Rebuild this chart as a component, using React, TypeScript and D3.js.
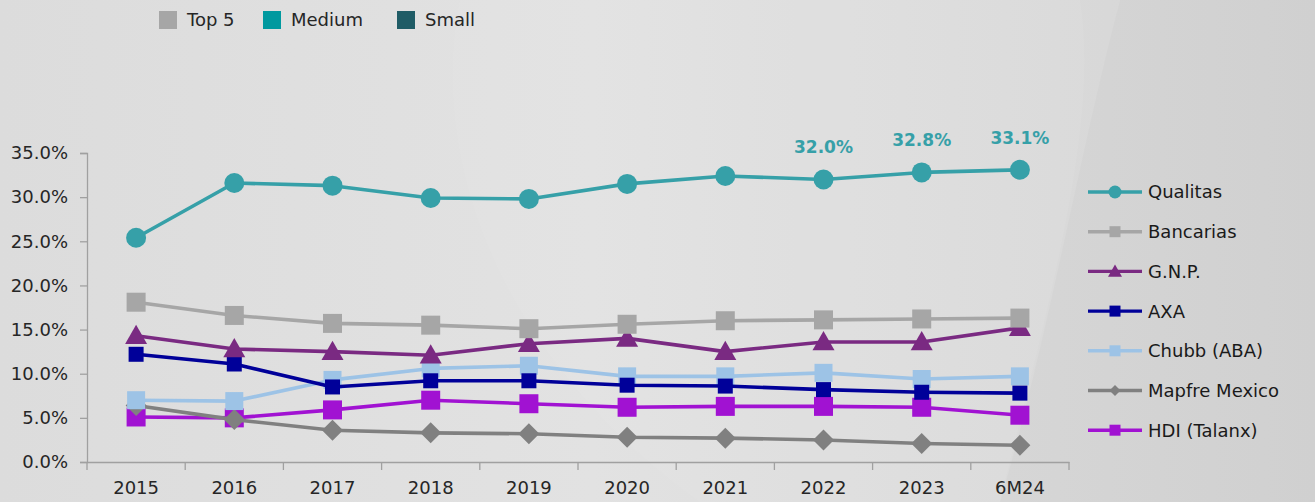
import { useEffect, useRef } from 'react';
import * as d3 from 'd3';

const years = ['2015', '2016', '2017', '2018', '2019', '2020', '2021', '2022', '2023', '6M24'];

const qualitas = [25.4, 31.6, 31.3, 29.9, 29.8, 31.5, 32.4, 32.0, 32.8, 33.1];
const bancarias = [18.1, 16.6, 15.7, 15.5, 15.1, 15.6, 16.0, 16.1, 16.2, 16.3];
const gnp = [14.3, 12.8, 12.5, 12.1, 13.4, 14.0, 12.5, 13.6, 13.6, 15.2];
const axa = [12.2, 11.1, 8.5, 9.2, 9.2, 8.7, 8.6, 8.2, 7.9, 7.8];
const chubb = [7.0, 6.9, 9.3, 10.6, 10.9, 9.7, 9.7, 10.1, 9.4, 9.7];
const mapfre = [6.4, 4.8, 3.6, 3.3, 3.2, 2.8, 2.7, 2.5, 2.1, 1.9];
const hdi = [5.1, 5.0, 5.9, 7.0, 6.6, 6.2, 6.3, 6.3, 6.2, 5.3];

const yTicks = [0, 5, 10, 15, 20, 25, 30, 35];

// labels shown above the last three Qualitas points
const highlighted = ['2022', '2023', '6M24'];

const segments = ['Top 5', 'Medium', 'Small'];
const segmentColors = ['#a6a6a6', '#00999f', '#1f5c66'];

const series = [
  { name: 'Qualitas', values: qualitas, color: '#36a0a8', marker: 'circle', size: 10 },
  { name: 'Bancarias', values: bancarias, color: '#a6a6a6', marker: 'square', size: 9.5 },
  { name: 'G.N.P.', values: gnp, color: '#7a2a82', marker: 'triangle', size: 11 },
  { name: 'AXA', values: axa, color: '#000099', marker: 'square', size: 7.5 },
  { name: 'Chubb (ABA)', values: chubb, color: '#9dc3e6', marker: 'square', size: 9 },
  { name: 'Mapfre Mexico', values: mapfre, color: '#808080', marker: 'diamond', size: 10.5 },
  { name: 'HDI (Talanx)', values: hdi, color: '#a112d2', marker: 'square', size: 9.5 }
];

const FONT = '"DejaVu Sans", sans-serif';

function markerPath(type, s) {
  if (type === 'circle') return d3.symbol(d3.symbolCircle, Math.PI * s * s)();
  if (type === 'triangle') return `M0,${-s}L${s},${s * 0.75}L${-s},${s * 0.75}Z`;
  if (type === 'diamond') return `M0,${-s}L${s},0L0,${s}L${-s},0Z`;
  return `M${-s},${-s}H${s}V${s}H${-s}Z`;
}

export default function App() {
  const svgRef = useRef();

  useEffect(() => {
    document.body.style.margin = '0';
    const width = 1315;
    const height = 502;
    const svg = d3.select(svgRef.current);
    svg.selectAll('*').remove();
    svg.attr('width', width).attr('height', height);

    // background
    const defs = svg.append('defs');
    const grad = defs.append('linearGradient').attr('id', 'bg').attr('x1', 0).attr('x2', 1).attr('y1', 0).attr('y2', 0);
    grad.append('stop').attr('offset', '0%').attr('stop-color', '#dcdcdc');
    grad.append('stop').attr('offset', '45%').attr('stop-color', '#e2e2e2');
    grad.append('stop').attr('offset', '100%').attr('stop-color', '#d4d4d4');
    svg.append('rect').attr('width', width).attr('height', height).attr('fill', 'url(#bg)');
    svg.append('path')
      .attr('d', 'M460,0 C430,150 490,350 700,502 L1000,502 C1050,300 1100,120 1080,0 Z')
      .attr('fill', '#ffffff').attr('opacity', 0.06);
    svg.append('path')
      .attr('d', 'M1120,0 L1315,0 L1315,502 L1000,502 C1050,330 1080,150 1120,0 Z')
      .attr('fill', '#000000').attr('opacity', 0.015);

    const left = 87;
    const right = 1069;
    const top = 153;
    const bottom = 462;

    const x = d3.scaleBand().domain(years).range([left, right]);
    const y = d3.scaleLinear().domain([0, 35]).range([bottom, top]);
    const cx = d => x(d) + x.bandwidth() / 2;

    // y axis
    const yAxis = svg.append('g')
      .attr('transform', `translate(${left},0)`)
      .call(d3.axisLeft(y).tickValues(yTicks).tickSize(7).tickPadding(12).tickFormat(d => d.toFixed(1) + '%'));
    yAxis.select('.domain').attr('stroke', '#a0a0a0').attr('stroke-width', 1.3);
    yAxis.selectAll('.tick line').attr('stroke', '#a0a0a0').attr('stroke-width', 1.3).attr('x2', -7);
    yAxis.selectAll('text').attr('fill', '#262626').style('font-size', '18px').style('font-family', FONT);

    // x axis
    const xAxis = svg.append('g')
      .attr('transform', `translate(0,${bottom})`)
      .call(d3.axisBottom(x).tickSize(0).tickPadding(19));
    xAxis.select('.domain').attr('stroke', '#a0a0a0').attr('stroke-width', 1.3);
    xAxis.selectAll('text').attr('fill', '#262626').style('font-size', '18px').style('font-family', FONT);
    svg.append('g')
      .selectAll('line')
      .data(d3.range(years.length + 1))
      .join('line')
      .attr('x1', i => left + i * x.bandwidth())
      .attr('x2', i => left + i * x.bandwidth())
      .attr('y1', bottom)
      .attr('y2', bottom + 8)
      .attr('stroke', '#a0a0a0')
      .attr('stroke-width', 1.3);

    const line = d3.line().x((d, i) => cx(years[i])).y(d => y(d));

    // draw series bottom-up so Qualitas is on top
    series.slice().reverse().forEach(s => {
      const g = svg.append('g');
      g.append('path')
        .attr('d', line(s.values))
        .attr('fill', 'none')
        .attr('stroke', s.color)
        .attr('stroke-width', 3.6)
        .attr('stroke-linejoin', 'round');
      g.selectAll('path.m')
        .data(s.values)
        .join('path')
        .attr('class', 'm')
        .attr('transform', (d, i) => `translate(${cx(years[i])},${y(d)})`)
        .attr('d', markerPath(s.marker, s.size))
        .attr('fill', s.color);
    });

    // data labels
    svg.append('g')
      .selectAll('text')
      .data(highlighted)
      .join('text')
      .attr('x', d => cx(d))
      .attr('y', d => y(qualitas[years.indexOf(d)]) - 26)
      .attr('text-anchor', 'middle')
      .attr('fill', '#36a0a8')
      .style('font-size', '17px')
      .style('font-weight', 'bold')
      .style('font-family', FONT)
      .text(d => qualitas[years.indexOf(d)].toFixed(1) + '%');

    // right legend
    const legend = svg.append('g').attr('transform', 'translate(1088,192)');
    series.forEach((s, i) => {
      const row = legend.append('g').attr('transform', `translate(0,${i * 39.7})`);
      row.append('line').attr('x1', 0).attr('x2', 54).attr('stroke', s.color).attr('stroke-width', 3.4);
      row.append('path')
        .attr('transform', 'translate(27,0)')
        .attr('d', markerPath(s.marker, s.marker === 'circle' ? 6.5 : s.marker === 'triangle' ? 7 : 5.5))
        .attr('fill', s.color);
      row.append('text')
        .attr('x', 60)
        .attr('dy', '0.36em')
        .attr('fill', '#1a1a1a')
        .style('font-size', '18px')
        .style('font-family', FONT)
        .text(s.name);
    });

    // top legend
    const top5 = svg.append('g').attr('transform', 'translate(159,11)');
    let offset = 0;
    const gaps = [104, 134, 0];
    segments.forEach((name, i) => {
      const item = top5.append('g').attr('transform', `translate(${offset},0)`);
      item.append('rect').attr('width', 18).attr('height', 18).attr('fill', segmentColors[i]);
      item.append('text')
        .attr('x', 28)
        .attr('y', 9)
        .attr('dy', '0.36em')
        .attr('fill', '#262626')
        .style('font-size', '18px')
        .style('font-family', FONT)
        .text(name);
      offset += gaps[i];
    });
  }, []);

  return <svg ref={svgRef} style={{ display: 'block' }}></svg>;
}
